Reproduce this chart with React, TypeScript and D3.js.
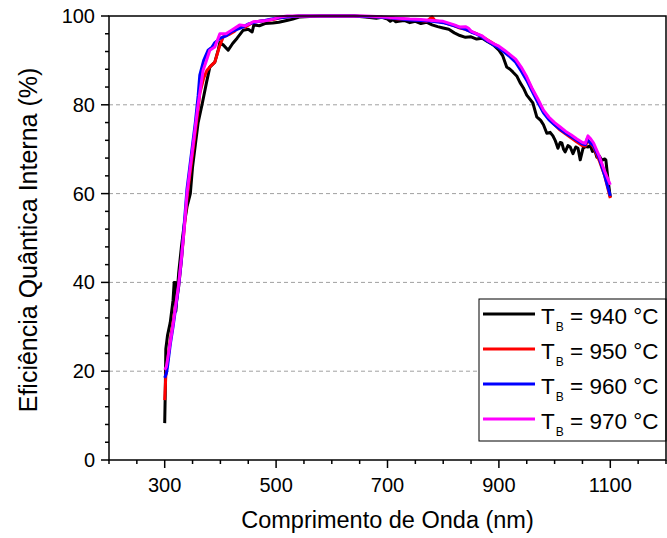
import React from "react";
import * as d3 from "d3";

// ---- data (wavelength nm, internal quantum efficiency %) ----
const series940: [number, number][] = [
  [300, 8.3], [301, 15], [302, 25], [305, 28], [310, 31], [315, 36], [317, 40], [319, 40], [320, 33.5],
  [325, 42], [330, 48], [335, 53], [340, 57], [346, 60], [350, 66], [355, 71], [360, 76], [367, 80],
  [375, 85], [381, 88.5], [390, 89.6], [396, 92.3], [399, 94], [405, 93.5], [414, 92.3], [422, 93.8],
  [430, 95], [441, 96.8], [450, 97], [457, 96.4], [460, 98], [470, 97.8], [480, 98.3], [494, 98.4],
  [505, 98.6], [519, 99], [530, 99.3], [543, 99.8], [560, 99.9], [580, 100], [600, 100], [620, 100],
  [640, 100], [660, 99.8], [680, 99.5], [690, 99.7], [700, 99.3], [705, 98.8], [710, 99.2], [715, 98.7],
  [720, 98.8], [730, 99], [740, 98.5], [750, 98.8], [760, 98.3], [770, 98.6], [780, 98], [790, 97.6],
  [800, 97.3], [810, 97], [820, 96.2], [830, 95.6], [840, 95.2], [850, 95.3], [860, 94.8], [870, 95],
  [880, 94.2], [890, 93.5], [900, 92.3], [907, 91], [914, 88.5], [920, 88], [925, 87.4], [932, 86.5],
  [938, 85], [944, 83.8], [950, 82.2], [956, 81.2], [961, 80.4], [968, 77.3], [975, 76.5], [980, 75.5],
  [986, 73.6], [992, 73.8], [997, 73], [1001, 72], [1006, 70.2], [1010, 71.5], [1013, 71.4], [1016, 70],
  [1019, 69.4], [1024, 70.8], [1028, 70.5], [1033, 69], [1038, 70.5], [1042, 70.2], [1046, 67.6],
  [1051, 70.2], [1056, 70.6], [1060, 70.5], [1064, 70.8], [1068, 69.5], [1072, 69.8], [1076, 68.2],
  [1080, 68.5], [1085, 67.5], [1090, 67.8], [1092, 67.6], [1096, 63], [1100, 59.2],
];

const series950: [number, number][] = [
  [300, 13.5], [302, 19], [305, 22], [310, 27], [315, 31], [320, 35], [325, 39], [330, 45], [335, 52],
  [340, 59], [345, 64], [350, 69], [355, 74], [360, 79], [363, 82.6], [370, 86], [376, 87.8], [383, 88.8],
  [390, 89.6], [398, 93], [405, 95.3], [415, 95.8], [425, 96.5], [435, 97.8], [445, 97.5], [459, 98.6],
  [470, 98.8], [483, 99], [495, 99.2], [507, 99.6], [520, 99.8], [540, 100], [560, 100], [580, 100],
  [600, 100], [620, 100], [640, 100], [660, 99.9], [680, 99.8], [700, 99.6], [720, 99.3], [740, 99.2],
  [760, 99], [770, 98.8], [780, 99.8], [785, 99], [790, 98.8], [800, 98.6], [810, 98.2], [820, 97.8],
  [830, 97.3], [840, 97], [850, 96.5], [860, 96], [870, 95.4], [880, 94.6], [890, 93.8], [900, 93],
  [910, 92], [920, 91], [930, 89.8], [940, 88], [950, 86], [960, 83.4], [970, 81], [980, 78.5],
  [990, 76.8], [1000, 75.5], [1010, 74.3], [1020, 73.4], [1030, 72.5], [1040, 71.6], [1050, 70.8],
  [1055, 70.7], [1060, 72], [1065, 71.2], [1070, 70.5], [1080, 67.5], [1090, 64], [1100, 59],
];

const series960: [number, number][] = [
  [300, 18.5], [303, 19.5], [305, 21], [310, 26], [315, 30], [320, 34.5], [325, 39], [330, 45], [335, 53],
  [340, 61], [345, 66], [350, 71], [355, 76], [360, 82], [363, 86.7], [370, 90], [378, 92.3], [385, 93],
  [390, 94], [400, 95], [410, 95.5], [420, 96.5], [430, 97], [440, 97.5], [450, 98.2], [460, 98.5],
  [470, 98.8], [480, 99], [490, 99.3], [500, 99.5], [520, 99.8], [540, 100], [560, 100], [580, 100],
  [600, 100], [620, 100], [640, 100], [660, 99.9], [680, 99.8], [700, 99.6], [720, 99.4], [740, 99.1],
  [760, 99], [780, 98.8], [800, 98.5], [820, 97.8], [840, 97], [850, 96.4], [860, 95.9], [870, 95.2],
  [880, 94.3], [890, 93.5], [900, 92.8], [910, 91.8], [920, 90.8], [930, 89.6], [940, 87.6], [950, 85.5],
  [960, 83], [970, 80.5], [980, 78.2], [990, 76.6], [1000, 75.5], [1010, 74.5], [1020, 73.6], [1030, 72.8],
  [1040, 72], [1050, 71.2], [1055, 71], [1058, 72.2], [1065, 71.3], [1070, 70.8], [1080, 68], [1090, 64],
  [1100, 59.5],
];

const series970: [number, number][] = [
  [300, 20.3], [303, 21], [305, 22.5], [310, 26.5], [315, 30.5], [320, 35], [325, 39.5], [330, 45.5],
  [335, 52], [340, 60], [345, 65], [350, 70], [355, 75], [360, 80], [369, 87.8], [375, 90], [381, 92.3],
  [390, 93], [399, 96], [410, 96], [420, 96.8], [435, 98], [445, 97.8], [459, 98.7], [470, 98.8],
  [483, 99], [495, 99.3], [507, 99.8], [520, 100], [540, 100], [560, 100], [580, 100], [600, 100],
  [620, 100], [640, 100], [660, 100], [680, 99.9], [700, 99.7], [720, 99.5], [740, 99.3], [760, 99.2],
  [780, 99], [800, 98.8], [820, 98], [830, 97.5], [840, 97.6], [845, 97.3], [850, 96.6], [860, 96],
  [870, 95.5], [880, 94.5], [890, 93.8], [900, 93.2], [910, 92.3], [920, 91.3], [930, 90.3], [940, 88.5],
  [950, 86.3], [960, 83.6], [970, 81.3], [980, 78.8], [990, 77.2], [1000, 76], [1010, 75], [1020, 74],
  [1030, 73.2], [1040, 72.3], [1050, 71.5], [1055, 71.3], [1060, 73], [1065, 72.3], [1070, 71.4],
  [1080, 68.5], [1090, 65], [1100, 62],
];

const seriesLabels = ["940", "950", "960", "970"];
const seriesColors = ["#000000", "#ff0000", "#0000ff", "#ff00ff"];
const allSeries = [series940, series950, series960, series970];

const xMajorTicks = [300, 500, 700, 900, 1100];
const yMajorTicks = [0, 20, 40, 60, 80, 100];
const gridValues = [20, 40, 60, 80];

const xTitle = "Comprimento de Onda (nm)";
const yTitle = "Eficiência Quântica Interna (%)";

const W = 667;
const H = 538;
const FONT = "'Liberation Sans', Arial, Helvetica, sans-serif";

export default function App() {
  const left = 109, right = 666, top = 16, bottom = 460;
  const x = d3.scaleLinear().domain([200, 1200]).range([left, right]);
  const y = d3.scaleLinear().domain([0, 100]).range([bottom, top]);
  const line = d3
    .line<[number, number]>()
    .x((d) => x(d[0]))
    .y((d) => y(d[1]))
    .curve(d3.curveLinear);

  const xMinor = d3.range(200, 1201, 50).filter((v) => !xMajorTicks.includes(v));
  const yMinor = d3.range(0, 101, 4).filter((v) => !yMajorTicks.includes(v));

  const legX = 479, legY = 299, legW = right - 479, legH = 142;
  const legRowY = [314, 349, 384, 419];

  return (
    <svg
      width={W}
      height={H}
      style={{ position: "absolute", left: 0, top: 0, background: "#fff" }}
      fontFamily={FONT}
    >
      <rect x={0} y={0} width={W} height={H} fill="#fff" />
      {/* grid */}
      {gridValues.map((g) => (
        <line
          key={"g" + g}
          x1={left}
          x2={right}
          y1={y(g)}
          y2={y(g)}
          stroke="#a0a0a0"
          strokeWidth={1}
          strokeDasharray="4,3"
        />
      ))}
      {/* curves */}
      {allSeries.map((s, i) => (
        <path
          key={"s" + i}
          d={line(s) || ""}
          fill="none"
          stroke={seriesColors[i]}
          strokeWidth={3}
          strokeLinejoin="round"
        />
      ))}
      {/* legend */}
      <rect x={legX} y={legY} width={legW} height={legH} fill="#fff" stroke="#000" strokeWidth={1} />
      {seriesLabels.map((lab, i) => (
        <g key={"l" + i}>
          <line x1={483} x2={535} y1={legRowY[i]} y2={legRowY[i]} stroke={seriesColors[i]} strokeWidth={3} />
          <text x={541} y={legRowY[i] + 10} fontSize={22.5} fill="#000">
            <tspan>T</tspan>
            <tspan fontSize={12} dx={1} dy={7}>B</tspan>
            <tspan dy={-7}>{` = ${lab} °C`}</tspan>
          </text>
        </g>
      ))}
      {/* frame */}
      <rect x={left} y={top} width={right - left} height={bottom - top} fill="none" stroke="#000" strokeWidth={1.5} />
      {/* x ticks */}
      {xMajorTicks.map((t) => (
        <g key={"xt" + t}>
          <line x1={x(t)} x2={x(t)} y1={bottom} y2={bottom + 8} stroke="#000" strokeWidth={1.5} />
          <text x={x(t)} y={492} fontSize={20} textAnchor="middle" fill="#000">
            {t}
          </text>
        </g>
      ))}
      {xMinor.map((t) => (
        <line key={"xm" + t} x1={x(t)} x2={x(t)} y1={bottom} y2={bottom + 4} stroke="#000" strokeWidth={1.5} />
      ))}
      {/* y ticks */}
      {yMajorTicks.map((t) => (
        <g key={"yt" + t}>
          <line x1={left - 8} x2={left} y1={y(t)} y2={y(t)} stroke="#000" strokeWidth={1.5} />
          <text x={95} y={y(t) + 7} fontSize={20} textAnchor="end" fill="#000">
            {t}
          </text>
        </g>
      ))}
      {yMinor.map((t) => (
        <line key={"ym" + t} x1={left - 4} x2={left} y1={y(t)} y2={y(t)} stroke="#000" strokeWidth={1.5} />
      ))}
      {/* titles */}
      <text x={(left + right) / 2} y={528} fontSize={23.5} textAnchor="middle" fill="#000">
        {xTitle}
      </text>
      <text
        transform={`translate(37, ${(top + bottom) / 2 + 2}) rotate(-90)`}
        fontSize={25}
        textAnchor="middle"
        fill="#000"
      >
        {yTitle}
      </text>
    </svg>
  );
}
